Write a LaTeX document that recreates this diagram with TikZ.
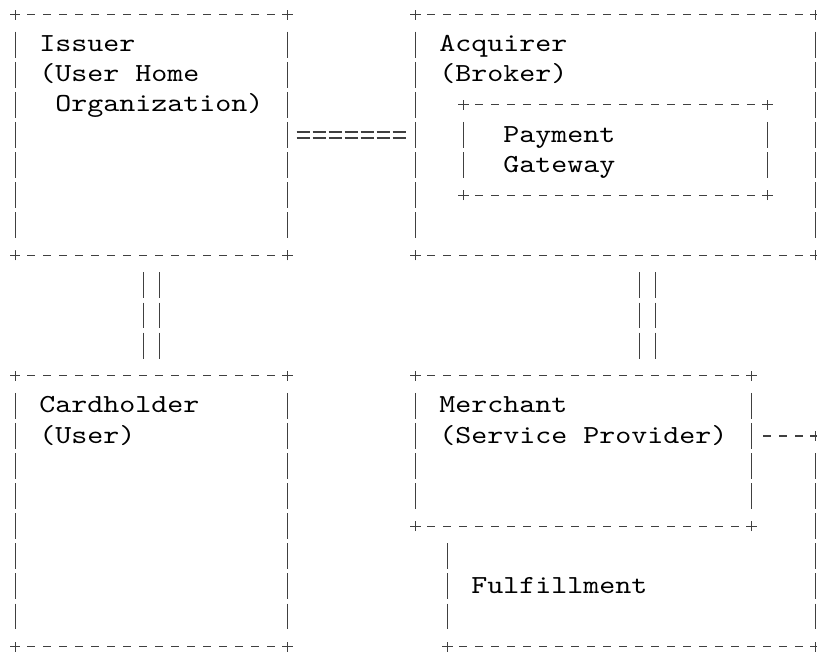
\documentclass[tikz,border=0pt]{standalone}
\usepackage{fontspec}
\newfontfamily\asciifont[FakeStretch=1.172]{lmmono10-regular.otf}
\usetikzlibrary{fit,calc}
\definecolor{ink}{gray}{0.25}
\makeatletter
% set a string on a fixed 12pt character grid (~ = one blank cell)
\newcommand\mono[1]{\mono@#1\@nil}
\def\mono@#1{\ifx#1\@nil\else\hbox to 12pt{\hss#1\hss}\expandafter\mono@\fi}
\makeatother
\tikzset{
  stroke/.style={draw=ink, line width=0.9pt},
  hdash/.style={stroke, dash pattern=on 6pt off 6pt},
  vbar/.style={stroke, dash pattern=on 19.41pt off 3.165pt},
  eqbar/.style={stroke, dash pattern=on 9.975pt off 2.025pt},
  boxarea/.style={inner sep=0pt, outer sep=0pt},
  lbl/.style={anchor=base west, inner sep=0pt, outer sep=0pt,
    font=\asciifont\fontsize{19.5pt}{24pt}\selectfont, text=black}
}
\newcommand\plusat[1]{\draw[stroke] ([xshift=-3.9pt]#1) -- ([xshift=3.9pt]#1) ([yshift=-3.75pt]#1) -- ([yshift=3.75pt]#1);}
\newcommand\asciibox[5]{%
  \coordinate (#1-nw) at (#2,#3);
  \coordinate (#1-se) at (#4,#5);
  \node[boxarea, fit=(#1-nw)(#1-se)] (#1) {};
  \draw[hdash] ([xshift=9pt]#1.north west) -- ([xshift=-9pt]#1.north east);
  \draw[hdash] ([xshift=9pt]#1.south west) -- ([xshift=-9pt]#1.south east);
  \draw[vbar] ([yshift=-12.868pt]#1.north west) -- ([yshift=12.868pt]#1.south west);
  \draw[vbar] ([yshift=-12.868pt]#1.north east) -- ([yshift=12.868pt]#1.south east);
  \plusat{#1.north west}\plusat{#1.north east}\plusat{#1.south west}\plusat{#1.south east}%
}
\begin{document}
\begin{tikzpicture}[x=12pt,y=-22.575pt]
\useasboundingbox (-0.956,-0.482) rectangle (50.106,21.312);

% boxes
\asciibox{issuer}{0}{0}{17}{8}
\asciibox{acquirer}{25}{0}{50}{8}
\asciibox{gateway}{28}{3}{47}{6}
\asciibox{cardholder}{0}{12}{17}{21}
\asciibox{merchant}{25}{12}{46}{17}

% fulfillment area (top shared with merchant, right side is the connector)
\coordinate (ful-nw) at (27,17);
\coordinate (ful-se) at (50,21);
\node[boxarea, fit=(ful-nw)(ful-se)] (ful) {};
\draw[vbar] ([yshift=-12.868pt]ful.north west) -- ([yshift=12.868pt]ful.south west);
\draw[hdash] ([xshift=9pt]ful.south west) -- ([xshift=-9pt]ful.south east);
\plusat{ful.south west}

% labels
\node[lbl] (t-issuer) at (1.5,1.236) {\mono{Issuer}};
\node[lbl] (t-issuer2) at (1.5,2.236) {\mono{(User~Home}};
\node[lbl] (t-issuer3) at (2.5,3.236) {\mono{Organization)}};
\node[lbl] (t-acq) at (26.5,1.236) {\mono{Acquirer}};
\node[lbl] (t-acq2) at (26.5,2.236) {\mono{(Broker)}};
\node[lbl] (t-pay) at (30.5,4.236) {\mono{Payment}};
\node[lbl] (t-pay2) at (30.5,5.236) {\mono{Gateway}};
\node[lbl] (t-card) at (1.5,13.236) {\mono{Cardholder}};
\node[lbl] (t-card2) at (1.5,14.236) {\mono{(User)}};
\node[lbl] (t-mer) at (26.5,13.236) {\mono{Merchant}};
\node[lbl] (t-mer2) at (26.5,14.236) {\mono{(Service~Provider)}};
\node[lbl] (t-ful) at (28.5,19.236) {\mono{Fulfillment}};

% issuer == acquirer
\draw[eqbar, shorten <=7.02pt, shorten >=7.02pt] ([yshift=2.25pt]issuer.east) -- ([yshift=2.25pt]acquirer.east -| acquirer.west);
\draw[eqbar, shorten <=7.02pt, shorten >=7.02pt] ([yshift=-2.25pt]issuer.east) -- ([yshift=-2.25pt]acquirer.east -| acquirer.west);

% issuer || cardholder
\draw[vbar, shorten <=12.868pt, shorten >=12.868pt] ([xshift=-6pt]issuer.south) -- ([xshift=-6pt]cardholder.north);
\draw[vbar, shorten <=12.868pt, shorten >=12.868pt] ([xshift=6pt]issuer.south) -- ([xshift=6pt]cardholder.north);

% acquirer || merchant
\coordinate (am) at ([xshift=174pt]acquirer.south west);
\draw[vbar, shorten <=12.868pt, shorten >=12.868pt] ([xshift=-6pt]am) -- ([xshift=-6pt]am |- merchant.north);
\draw[vbar, shorten <=12.868pt, shorten >=12.868pt] ([xshift=6pt]am) -- ([xshift=6pt]am |- merchant.north);

% merchant ---+ fulfillment
\coordinate (mf) at ([yshift=-45.15pt]merchant.north east);
\coordinate (mfc) at (mf -| ful.east);
\draw[hdash] ([xshift=9pt]mf) -- ([xshift=-9pt]mfc);
\plusat{mfc}
\draw[vbar] ([yshift=-12.868pt]mfc) -- ([yshift=12.868pt]ful.south east);
\plusat{ful.south east}
\end{tikzpicture}
\end{document}
